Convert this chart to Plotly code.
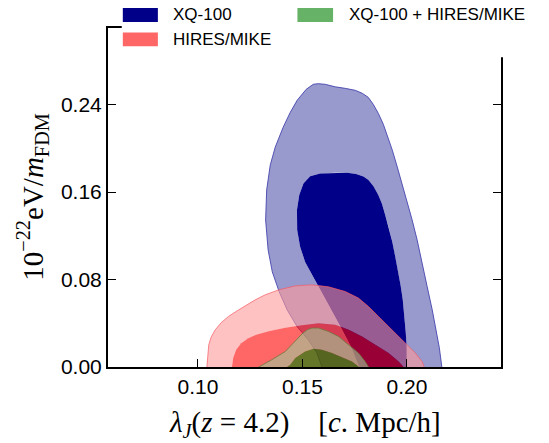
import plotly.graph_objects as go

# ---- data: confidence contours, data units ----
# XQ-100 : 95% (outer) and 68% (inner) regions
xq_outer_x = [0.1593, 0.1569, 0.1528, 0.1475, 0.1427, 0.1389, 0.1356, 0.1336, 0.1324, 0.1329,
              0.1346, 0.1370, 0.1408, 0.1442, 0.1475, 0.1518, 0.1552, 0.1576, 0.1609, 0.1657,
              0.1705, 0.1753, 0.1786, 0.1815, 0.1839, 0.1863, 0.1887, 0.1906, 0.1930, 0.1954,
              0.1978, 0.2001, 0.2025, 0.2049, 0.2073, 0.2097, 0.2121, 0.2140, 0.2155, 0.2167]
xq_outer_y = [0.0000, 0.0130, 0.0249, 0.0368, 0.0523, 0.0687, 0.0870, 0.1070, 0.1344, 0.1618,
              0.1846, 0.2010, 0.2193, 0.2329, 0.2439, 0.2539, 0.2585, 0.2591, 0.2585, 0.2562,
              0.2548, 0.2530, 0.2503, 0.2466, 0.2402, 0.2320, 0.2220, 0.2120, 0.1983, 0.1828,
              0.1672, 0.1517, 0.1344, 0.1161, 0.0961, 0.0733, 0.0523, 0.0340, 0.0176, 0.0000]
xq_inner_x = [0.1772, 0.1733, 0.1690, 0.1633, 0.1585, 0.1547, 0.1513, 0.1489, 0.1475, 0.1474,
              0.1485, 0.1505, 0.1537, 0.1585, 0.1657, 0.1714, 0.1757, 0.1792, 0.1816, 0.1840,
              0.1863, 0.1880, 0.1896, 0.1912, 0.1930, 0.1944, 0.1958, 0.1970, 0.1980, 0.1989,
              0.1994, 0.1999, 0.1999]
xq_inner_y = [0.0000, 0.0185, 0.0340, 0.0541, 0.0705, 0.0842, 0.0961, 0.1100, 0.1253, 0.1435,
              0.1572, 0.1679, 0.1745, 0.1770, 0.1776, 0.1776, 0.1764, 0.1741, 0.1709, 0.1654,
              0.1572, 0.1496, 0.1390, 0.1283, 0.1143, 0.1009, 0.0870, 0.0742, 0.0614, 0.0450,
              0.0322, 0.0185, 0.0000]

# HIRES/MIKE
hm_outer_x = [0.1043, 0.1047, 0.1052, 0.1064, 0.1083, 0.1111, 0.1146, 0.1188, 0.1231, 0.1274,
              0.1322, 0.1386, 0.1466, 0.1545, 0.1625, 0.1705, 0.1768, 0.1816, 0.1864, 0.1928,
              0.1992, 0.2040, 0.2072, 0.2083]
hm_outer_y = [0.0000, 0.0112, 0.0203, 0.0276, 0.0340, 0.0404, 0.0462, 0.0514, 0.0568, 0.0614,
              0.0660, 0.0705, 0.0742, 0.0751, 0.0733, 0.0690, 0.0630, 0.0553, 0.0462, 0.0340,
              0.0219, 0.0128, 0.0051, 0.0000]
hm_inner_x = [0.1163, 0.1169, 0.1183, 0.1207, 0.1241, 0.1279, 0.1338, 0.1418, 0.1498, 0.1577,
              0.1657, 0.1721, 0.1785, 0.1848, 0.1912, 0.1960, 0.1984]
hm_inner_y = [0.0000, 0.0085, 0.0158, 0.0217, 0.0263, 0.0295, 0.0327, 0.0359, 0.0381, 0.0400,
              0.0386, 0.0340, 0.0279, 0.0203, 0.0128, 0.0051, 0.0000]

# XQ-100 + HIRES/MIKE
cb_outer_x = [0.1290, 0.1322, 0.1354, 0.1418, 0.1466, 0.1499, 0.1523, 0.1545, 0.1577, 0.1625,
              0.1673, 0.1721, 0.1768, 0.1800, 0.1816]
cb_outer_y = [0.0000, 0.0030, 0.0067, 0.0142, 0.0234, 0.0304, 0.0340, 0.0356, 0.0356, 0.0325,
              0.0279, 0.0203, 0.0128, 0.0051, 0.0000]
cb_inner_x = [0.1426, 0.1442, 0.1466, 0.1513, 0.1553, 0.1593, 0.1641, 0.1689, 0.1737, 0.1768,
              0.1769]
cb_inner_y = [0.0000, 0.0021, 0.0082, 0.0142, 0.0167, 0.0158, 0.0128, 0.0091, 0.0051, 0.0005,
              0.0000]

x_ticks = [0.10, 0.15, 0.20]
x_ticklabels = ["0.10", "0.15", "0.20"]
y_ticks = [0.00, 0.08, 0.16, 0.24]
y_ticklabels = ["0.00", "0.08", "0.16", "0.24"]

legend_names = ["XQ-100", "HIRES/MIKE", "XQ-100 + HIRES/MIKE"]

# ---- styles ----
styles = {
    "XQ-100": dict(light="rgb(152,153,205)", dark="rgb(0,0,136)", line="rgba(70,70,175,0.9)",
                   patch="rgb(0,0,136)"),
    "HIRES/MIKE": dict(light="rgba(255,153,153,0.6)", dark="rgba(255,0,0,0.6)",
                       line="rgba(245,90,100,0.7)", patch="rgb(255,102,102)"),
    "XQ-100 + HIRES/MIKE": dict(light="rgba(153,204,153,0.6)", dark="rgba(0,128,0,0.6)",
                                line="rgba(110,120,60,0.8)", patch="rgb(102,178,102)"),
}


def ring(ox, oy, ix, iy):
    # outer contour followed by the reversed inner contour -> hole (nonzero rule)
    return (list(ox) + [None] + list(ix)[::-1], list(oy) + [None] + list(iy)[::-1])


fig = go.Figure()
sets = [
    ("XQ-100", xq_outer_x, xq_outer_y, xq_inner_x, xq_inner_y),
    ("HIRES/MIKE", hm_outer_x, hm_outer_y, hm_inner_x, hm_inner_y),
    ("XQ-100 + HIRES/MIKE", cb_outer_x, cb_outer_y, cb_inner_x, cb_inner_y),
]
for name, ox, oy, ix, iy in sets:
    st = styles[name]
    rx, ry = ring(ox, oy, ix, iy)
    fig.add_trace(go.Scatter(x=rx, y=ry, mode="lines", fill="toself", fillcolor=st["light"],
                             line=dict(width=0), hoverinfo="skip", showlegend=False))
    fig.add_trace(go.Scatter(x=ix, y=iy, mode="lines", fill="toself", fillcolor=st["dark"],
                             line=dict(width=0), hoverinfo="skip", showlegend=False))
    fig.add_trace(go.Scatter(x=ox, y=oy, mode="lines", line=dict(color=st["line"], width=1),
                             hoverinfo="skip", showlegend=False))

# ---- manual legend (box covers top spine like the original) ----
shapes = [dict(type="rect", xref="paper", yref="paper", x0=0.035, x1=1.3, y0=0.914, y1=1.3,
               fillcolor="white", line=dict(width=0), layer="above")]
leg_pos = {
    "XQ-100": (0.0377, 0.1269, 1.0177, 1.0600, 0.1610, 1.0389),
    "HIRES/MIKE": (0.0377, 0.1269, 0.9461, 0.9865, 0.1610, 0.9667),
    "XQ-100 + HIRES/MIKE": (0.4820, 0.5727, 1.0177, 1.0600, 0.6069, 1.0389),
}
annotations = []
for name in legend_names:
    x0, x1, y0, y1, tx, ty = leg_pos[name]
    shapes.append(dict(type="rect", xref="paper", yref="paper", x0=x0, x1=x1, y0=y0, y1=y1,
                       fillcolor=styles[name]["patch"], line=dict(width=0), layer="above"))
    annotations.append(dict(text=name, xref="paper", yref="paper", x=tx, y=ty, xanchor="left",
                            yanchor="middle", showarrow=False,
                            font=dict(family="Liberation Sans, Arial", size=17, color="black")))

serif = "Liberation Serif, Times New Roman, serif"
annotations.append(dict(
    text="<i>λ</i><sub><i>J</i></sub>(<i>z</i> = 4.2)    [<i>c</i>. Mpc/h]",
    xref="paper", yref="paper", x=0.5, y=-0.169, xanchor="center", yanchor="middle",
    showarrow=False, font=dict(family=serif, size=29, color="black")))
annotations.append(dict(
    text="10<sup>−22</sup>eV/<i>m</i><sub>FDM</sub>",
    xref="paper", yref="paper", x=-0.192, y=0.501, xanchor="center", yanchor="middle",
    textangle=-90, showarrow=False, font=dict(family=serif, size=29, color="black")))

axis_common = dict(showline=True, linewidth=2, linecolor="black", mirror="ticks",
                   ticks="inside", ticklen=8, tickwidth=1.2, tickcolor="black",
                   showgrid=False, zeroline=False,
                   tickfont=dict(family="Liberation Sans, Arial", size=21, color="black"))

# the page body adds an 8px offset, so the figure is 8px smaller and shifted accordingly
fig.update_layout(
    width=541, height=435,
    margin=dict(l=100, r=48, t=20, b=76, autoexpand=False),
    paper_bgcolor="white", plot_bgcolor="white",
    showlegend=False,
    xaxis=dict(range=[0.057, 0.245], tickvals=x_ticks, ticktext=x_ticklabels, **axis_common),
    yaxis=dict(range=[0.0, 0.31], tickvals=y_ticks, ticktext=y_ticklabels, **axis_common),
    shapes=shapes,
    annotations=annotations,
)

fig.write_html("out.html")
